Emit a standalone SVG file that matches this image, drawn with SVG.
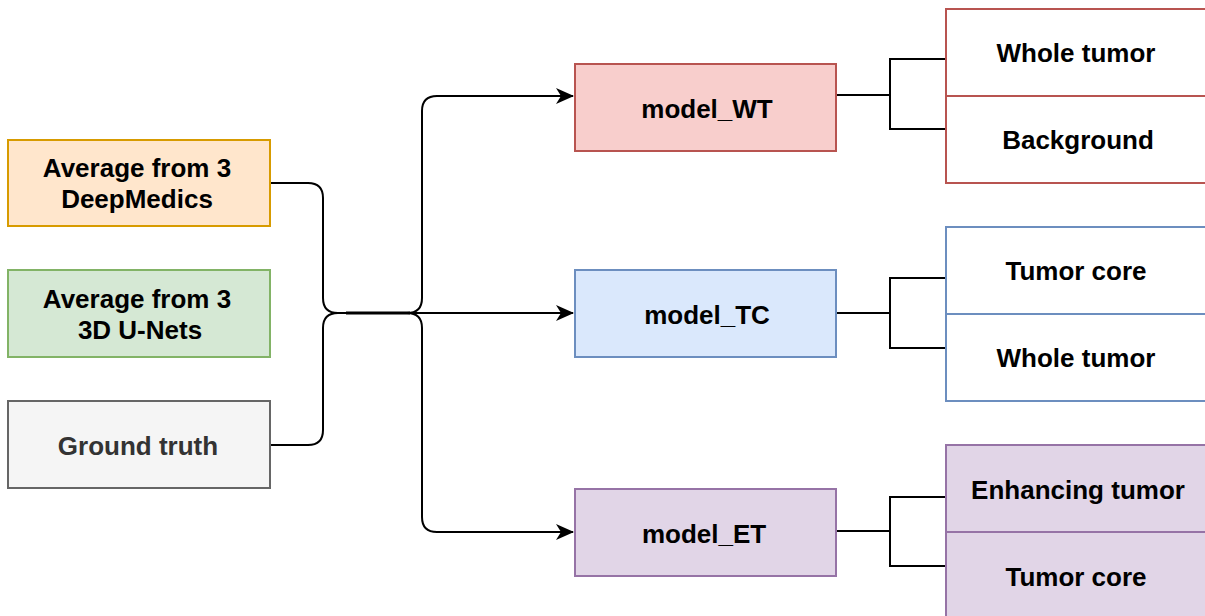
<svg xmlns="http://www.w3.org/2000/svg" width="1205" height="616" viewBox="0 0 1205 616">
<defs>
<marker id="arr" markerWidth="18" markerHeight="18" viewBox="0 0 18 18" refX="17" refY="9" orient="auto" markerUnits="userSpaceOnUse">
<path d="M0,1 L18,9 L0,17 L5,9 Z" fill="#000"/>
</marker>
<style>
text{font-family:"Liberation Sans",Arial,sans-serif;font-weight:bold;font-size:26px;text-anchor:middle;fill:#000}
rect{stroke-width:2}
.c{fill:none;stroke:#000;stroke-width:2}
.or{fill:#ffe6cc;stroke:#d79b00}
.gr{fill:#d5e8d4;stroke:#82b366}
.gy{fill:#f5f5f5;stroke:#666666}
.rd{fill:#f8cecc;stroke:#b85450}
.bl{fill:#dae8fc;stroke:#6c8ebf}
.pu{fill:#e1d5e7;stroke:#9673a6}
.rdw{fill:#ffffff;stroke:#b85450}
.blw{fill:#ffffff;stroke:#6c8ebf}
</style>
</defs>
<rect width="1205" height="616" fill="#fff" stroke="none"/>
<g id="connectors">
<path class="c" d="M270,183 H308 Q323,183 323,198 V298 Q323,313 338,313 H410"/>
<path class="c" d="M270,445 H308 Q323,445 323,430 V328 Q323,313 338,313 H410"/>
<line x1="346" y1="313" x2="410" y2="313" stroke="#000" stroke-width="3"/>
<path class="c" d="M346,313 H407 Q422,313 422,298 V111 Q422,96 437,96 H573" marker-end="url(#arr)"/>
<path class="c" d="M346,313 H573" marker-end="url(#arr)"/>
<path class="c" d="M346,313 H407 Q422,313 422,328 V517 Q422,532 437,532 H573" marker-end="url(#arr)"/>
<path class="c" d="M836,95 H890 M946,59 H890 V129 H946"/>
<path class="c" d="M836,313 H890 M946,278 H890 V348 H946"/>
<path class="c" d="M836,531 H890 M946,497 H890 V566 H946"/>
</g>
<g id="avg-deepmedics"><rect class="or" x="8" y="140" width="262" height="86"/><text x="137" y="177">Average from 3</text><text x="137" y="208">DeepMedics</text></g>
<g id="avg-unets"><rect class="gr" x="8" y="270" width="262" height="87"/><text x="137" y="308">Average from 3</text><text x="140" y="339">3D U-Nets</text></g>
<g id="ground-truth"><rect class="gy" x="8" y="401" width="262" height="87"/><text x="138" y="455" style="fill:#333333">Ground truth</text></g>
<g id="model-wt"><rect class="rd" x="575" y="64" width="261" height="87"/><text x="707" y="118">model_WT</text></g>
<g id="model-tc"><rect class="bl" x="575" y="270" width="261" height="87"/><text x="707" y="324">model_TC</text></g>
<g id="model-et"><rect class="pu" x="575" y="489" width="261" height="87"/><text x="704" y="543">model_ET</text></g>
<g id="wt-whole"><rect class="rdw" x="946" y="9" width="264" height="87"/><text x="1076" y="62">Whole tumor</text></g>
<g id="wt-bg"><rect class="rdw" x="946" y="96" width="264" height="87"/><text x="1078" y="149">Background</text></g>
<g id="tc-core"><rect class="blw" x="946" y="227" width="264" height="87"/><text x="1076" y="280">Tumor core</text></g>
<g id="tc-whole"><rect class="blw" x="946" y="314" width="264" height="87"/><text x="1076" y="367">Whole tumor</text></g>
<g id="et-enh"><rect class="pu" x="946" y="445" width="264" height="87"/><text x="1078" y="499">Enhancing tumor</text></g>
<g id="et-core"><rect class="pu" x="946" y="532" width="264" height="90"/><text x="1076" y="586">Tumor core</text></g>
</svg>
